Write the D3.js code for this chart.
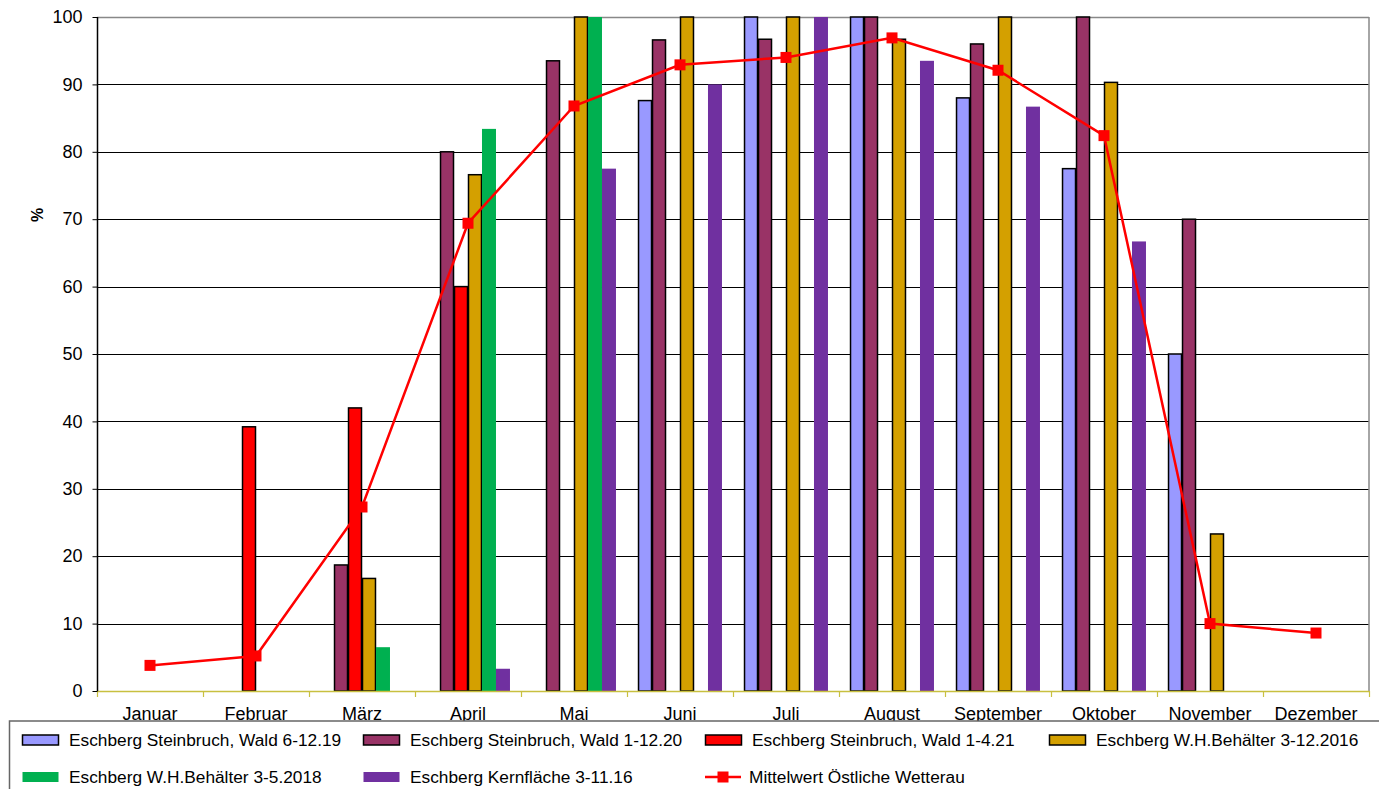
<!DOCTYPE html>
<html><head><meta charset="utf-8">
<script src="https://cdn.jsdelivr.net/npm/d3@7/dist/d3.min.js"></script>
<style>body{margin:0;background:#fff;} svg{display:block;font-family:"Liberation Sans",Arial,sans-serif;}</style>
</head><body>
<script>
const months = ["Januar","Februar","März","April","Mai","Juni","Juli","August","September","Oktober","November","Dezember"];
const seriesNames = ["Eschberg Steinbruch, Wald 6-12.19","Eschberg Steinbruch, Wald 1-12.20","Eschberg Steinbruch, Wald 1-4.21","Eschberg W.H.Behälter 3-12.2016","Eschberg W.H.Behälter 3-5.2018","Eschberg Kernfläche 3-11.16"];
const wald619   = [null,null,null,null,null,87.6,100,100,88,77.5,50,null];
const wald120   = [null,null,18.7,80,93.5,96.6,96.7,100,96,100,70,null];
const wald421   = [null,39.2,42,60,null,null,null,null,null,null,null,null];
const whb2016   = [null,null,16.7,76.6,100,100,100,96.7,100,90.3,23.3,null];
const whb2018   = [null,null,6.5,83.4,100,null,null,null,null,null,null,null];
const kern16    = [null,null,null,3.3,77.5,90,100,93.5,86.7,66.7,null,null];
const lineName = "Mittelwert Östliche Wetterau";
const mittelwert = [3.8,5.2,27.3,69.4,86.8,92.9,94,96.9,92.1,82.4,10,8.6];
const yTicks = [0,10,20,30,40,50,60,70,80,90,100];

const seriesData = [wald619,wald120,wald421,whb2016,whb2018,kern16];
const colors = ["#9999ff","#993366","#ff0000","#d4a000","#00b050","#7030a0"];
const outlined = [true,true,true,true,false,false];

const W=1379,H=789;
const L=97,R=1369,T=17,B=691;
const svg=d3.select("body").append("svg").attr("width",W).attr("height",H);

const x=d3.scaleBand().domain(months).range([L,R]).padding(0);
const groupPad = x.bandwidth()*0.104;
const x1=d3.scaleBand().domain(d3.range(seriesNames.length)).range([groupPad,x.bandwidth()-groupPad]).padding(0);
const y=d3.scaleLinear().domain([0,100]).range([B,T]);

// gridlines
svg.append("g").selectAll("line").data(yTicks.filter(d=>d>0&&d<100)).join("line")
  .attr("x1",L).attr("x2",R).attr("y1",d=>Math.round(y(d))+0.5).attr("y2",d=>Math.round(y(d))+0.5)
  .attr("stroke","#000").attr("stroke-width",1);
// top & right border
svg.append("line").attr("x1",L).attr("x2",R).attr("y1",y(100)+0.5).attr("y2",y(100)+0.5).attr("stroke","#888").attr("stroke-width",1.5);
svg.append("line").attr("x1",R).attr("x2",R).attr("y1",T).attr("y2",B).attr("stroke","#888").attr("stroke-width",1.5);

// bars
seriesData.forEach((vals,si)=>{
  svg.append("g").selectAll("rect").data(vals.map((v,i)=>({v,m:months[i]})).filter(d=>d.v!=null)).join("rect")
    .attr("x",d=>x(d.m)+x1(si)+(outlined[si]?0.5:0))
    .attr("y",d=>y(d.v))
    .attr("width",x1.bandwidth()-(outlined[si]?1:0))
    .attr("height",d=>y(0)-y(d.v))
    .attr("fill",colors[si])
    .attr("stroke",outlined[si]?"#000":"none")
    .attr("stroke-width",1.5);
});

// x axis
const xa=svg.append("g");
xa.append("line").attr("x1",L).attr("x2",R).attr("y1",B+0.5).attr("y2",B+0.5).attr("stroke","#c8c040").attr("stroke-width",1.5);
xa.selectAll(".tk").data(months.concat(["_end"])).join("line")
  .attr("x1",(d,i)=>Math.round(L+i*x.step())+0.5).attr("x2",(d,i)=>Math.round(L+i*x.step())+0.5)
  .attr("y1",B).attr("y2",B+6).attr("stroke","#c8c040").attr("stroke-width",1.2);
xa.selectAll("text").data(months).join("text")
  .attr("x",d=>x(d)+x.bandwidth()/2).attr("y",B+29)
  .attr("text-anchor","middle").attr("font-size",18).attr("fill","#000").text(d=>d);

// y axis
const ya=svg.append("g").attr("transform",`translate(${L+0.5},0)`)
  .call(d3.axisLeft(y).tickValues(yTicks).tickSize(5).tickPadding(10).tickFormat(d3.format("d")));
ya.select(".domain").attr("stroke","#000").attr("stroke-width",1.5).attr("d",`M0,${T}V${B}`);
ya.selectAll(".tick line").attr("stroke","#000");
ya.selectAll(".tick text").attr("font-size",18).attr("fill","#000").attr("font-family","Liberation Sans, Arial, sans-serif");

svg.append("text").attr("transform","translate(43,215) rotate(-90)").attr("text-anchor","middle")
  .attr("font-size",16).attr("font-weight","bold").text("%");

// line
const lineGen=d3.line().x((d,i)=>x(months[i])+x.bandwidth()/2).y(d=>y(d));
svg.append("path").datum(mittelwert).attr("d",lineGen).attr("fill","none").attr("stroke","#ff0000").attr("stroke-width",2.5);
svg.append("g").selectAll("rect").data(mittelwert).join("rect")
  .attr("x",(d,i)=>x(months[i])+x.bandwidth()/2-5.5).attr("y",d=>y(d)-5.5)
  .attr("width",11).attr("height",11).attr("fill","#ff0000");

// legend
const lg=svg.append("g");
lg.append("rect").attr("x",9.5).attr("y",721).attr("width",1400).attr("height",100).attr("fill","#fff").attr("stroke","#666").attr("stroke-width",1.5);
const legItems=[
  {name:seriesNames[0],si:0,x:22,y:740},
  {name:seriesNames[1],si:1,x:363,y:740},
  {name:seriesNames[2],si:2,x:705,y:740},
  {name:seriesNames[3],si:3,x:1049,y:740},
  {name:seriesNames[4],si:4,x:22,y:777},
  {name:seriesNames[5],si:5,x:363,y:777}
];
legItems.forEach(it=>{
  lg.append("rect").attr("x",it.x+0.5).attr("y",it.y-5).attr("width",36).attr("height",10)
    .attr("fill",colors[it.si]).attr("stroke",outlined[it.si]?"#000":"none").attr("stroke-width",1.5);
  lg.append("text").attr("x",it.x+47).attr("y",it.y+5.5).attr("font-size",17.3).text(it.name);
});
lg.append("line").attr("x1",705).attr("x2",741).attr("y1",777).attr("y2",777).attr("stroke","#ff0000").attr("stroke-width",2.5);
lg.append("rect").attr("x",723-5.5).attr("y",777-5.5).attr("width",11).attr("height",11).attr("fill","#ff0000");
lg.append("text").attr("x",749).attr("y",782.5).attr("font-size",17.3).text(lineName);
</script>
</body></html>
